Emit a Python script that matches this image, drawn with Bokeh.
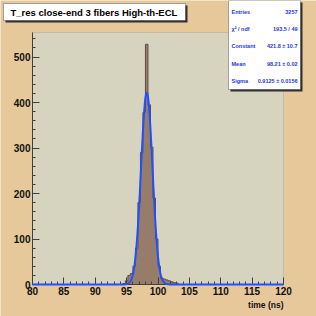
import numpy as np
from bokeh.plotting import figure
from bokeh.models import Range1d, SingleIntervalTicker, Label, BoxAnnotation
from bokeh.embed import file_html
from bokeh.resources import INLINE

# ---- data ----
bin_width = 0.4
bin_centers = [94.6, 95.0, 95.4, 95.8, 96.2, 96.6, 97.0, 97.4, 97.8, 98.2, 98.6,
               99.0, 99.4, 99.8, 100.2, 100.6, 101.0, 101.4, 101.8, 102.2, 102.6, 103.0]
counts = [2, 8, 20, 24, 40, 80, 180, 290, 378, 528, 395,
          302, 190, 100, 40, 14, 12, 10, 8, 6, 4, 3]
fit_constant = 421.8
fit_mean = 98.21
fit_sigma = 0.9125
stat_names = ["Entries", "\u03c7\u00b2 / ndf", "Constant", "Mean", "Sigma"]
stat_values = ["3257", "193.5 / 49", "421.8 \u00b1 10.7", "98.21 \u00b1 0.02", "0.9125 \u00b1 0.0156"]
title_text = "T_res close-end 3 fibers High-th-ECL"
x_title = "time (ns)"

# ---- layout ----
W = H = 316
FL, FR, FT, FB = 32, 283, 32, 284   # inner frame edges in px
X0, X1, Y0, Y1 = 80, 120, 0, 554
FONT = "Liberation Sans"


def dx(px):
    return X0 + (px - FL) * (X1 - X0) / (FR - FL)


def dy(py):
    return Y0 + (FB - py) * (Y1 - Y0) / (FB - FT)


CANVAS = "#E6C89B"
FRAME = "#D6D3BF"
BLUE_TXT = "#2838E0"

p = figure(width=W, height=H, output_backend="svg", toolbar_location=None,
           x_range=Range1d(dx(0), dx(W)), y_range=Range1d(dy(H), dy(0)),
           min_border=0)
p.border_fill_color = CANVAS
p.background_fill_color = CANVAS
p.outline_line_color = None
p.xgrid.visible = False
p.ygrid.visible = False

# inner frame (pad)
p.add_layout(BoxAnnotation(left=X0, right=X1, bottom=Y0, top=Y1, fill_color=FRAME,
                           fill_alpha=1, line_color="#8a8a8a", line_width=1,
                           level="underlay"))

# histogram as one staircase polygon
c = np.array(bin_centers)
v = np.array(counts, dtype=float)
left = c - bin_width / 2
right = c + bin_width / 2
edges = np.concatenate([left, [right[-1]]])
xs = np.repeat(edges, 2)
ys = np.concatenate([[0], np.repeat(v, 2), [0]])
p.patch(xs, ys, fill_color="#987C6A", line_color="#5E4E44", line_width=1)

# fit curve
xf = np.linspace(X0, X1, 801)
yf = fit_constant * np.exp(-0.5 * ((xf - fit_mean) / fit_sigma) ** 2)
fit = p.line(xf, yf, line_color="#2050FF", line_width=2)
fit.level = "annotation"

# axes placed at the data edges of the pad
p.xaxis.fixed_location = Y0
p.yaxis.fixed_location = X0
p.xaxis.bounds = (X0, X1)
p.yaxis.bounds = (Y0, Y1)
for ax in (p.xaxis[0], p.yaxis[0]):
    ax.axis_line_color = "#404040"
    ax.major_tick_line_color = "#404040"
    ax.minor_tick_line_color = "#404040"
    ax.major_tick_in = 7
    ax.major_tick_out = 0
    ax.minor_tick_in = 3
    ax.minor_tick_out = 0
    ax.major_label_text_font = FONT
    ax.major_label_text_font_size = "10px"
    ax.major_label_text_font_style = "bold"
    ax.major_label_text_color = "#111111"
    ax.major_label_standoff = 2
p.xaxis[0].ticker = SingleIntervalTicker(interval=5, num_minor_ticks=5)
p.yaxis[0].ticker = SingleIntervalTicker(interval=100, num_minor_ticks=5)

p.add_layout(Label(x=dx(FR), y=dy(304), text=x_title, text_align="right",
                   text_baseline="middle", text_font=FONT, text_font_size="8.5px",
                   text_font_style="bold", text_color="#111111"))

# title box
p.add_layout(BoxAnnotation(left=dx(5), right=dx(187), top=dy(5), bottom=dy(22),
                           fill_color="#303030", fill_alpha=1, line_color=None))
p.add_layout(BoxAnnotation(left=dx(3), right=dx(185), top=dy(3), bottom=dy(20),
                           fill_color="white", fill_alpha=1, line_color="black", line_width=1))
p.add_layout(Label(x=dx(10), y=dy(12), text=title_text, text_align="left",
                   text_baseline="middle", text_font=FONT, text_font_size="9.5px",
                   text_font_style="bold", text_color="black"))

# stats box
p.add_layout(BoxAnnotation(left=dx(230), right=dx(302), top=dy(2), bottom=dy(91),
                           fill_color="#303030", fill_alpha=1, line_color=None))
p.add_layout(BoxAnnotation(left=dx(228), right=dx(300), top=dy(0), bottom=dy(89),
                           fill_color="white", fill_alpha=1, line_color="black", line_width=1))
row_y = [11.5, 28.5, 45.5, 63, 80]
for name, val, ry in zip(stat_names, stat_values, row_y):
    p.add_layout(Label(x=dx(231), y=dy(ry), text=name, text_align="left",
                       text_baseline="middle", text_font=FONT, text_font_size="5.5px",
                       text_font_style="bold", text_color=BLUE_TXT))
    p.add_layout(Label(x=dx(297), y=dy(ry), text=val, text_align="right",
                       text_baseline="middle", text_font=FONT, text_font_size="5.5px",
                       text_font_style="bold", text_color=BLUE_TXT))

html = file_html(p, INLINE, title="T_res")
html = html.replace("</head>", "<style>html,body{margin:0;padding:0;overflow:hidden;}</style></head>", 1)
open("out.html", "w").write(html)
